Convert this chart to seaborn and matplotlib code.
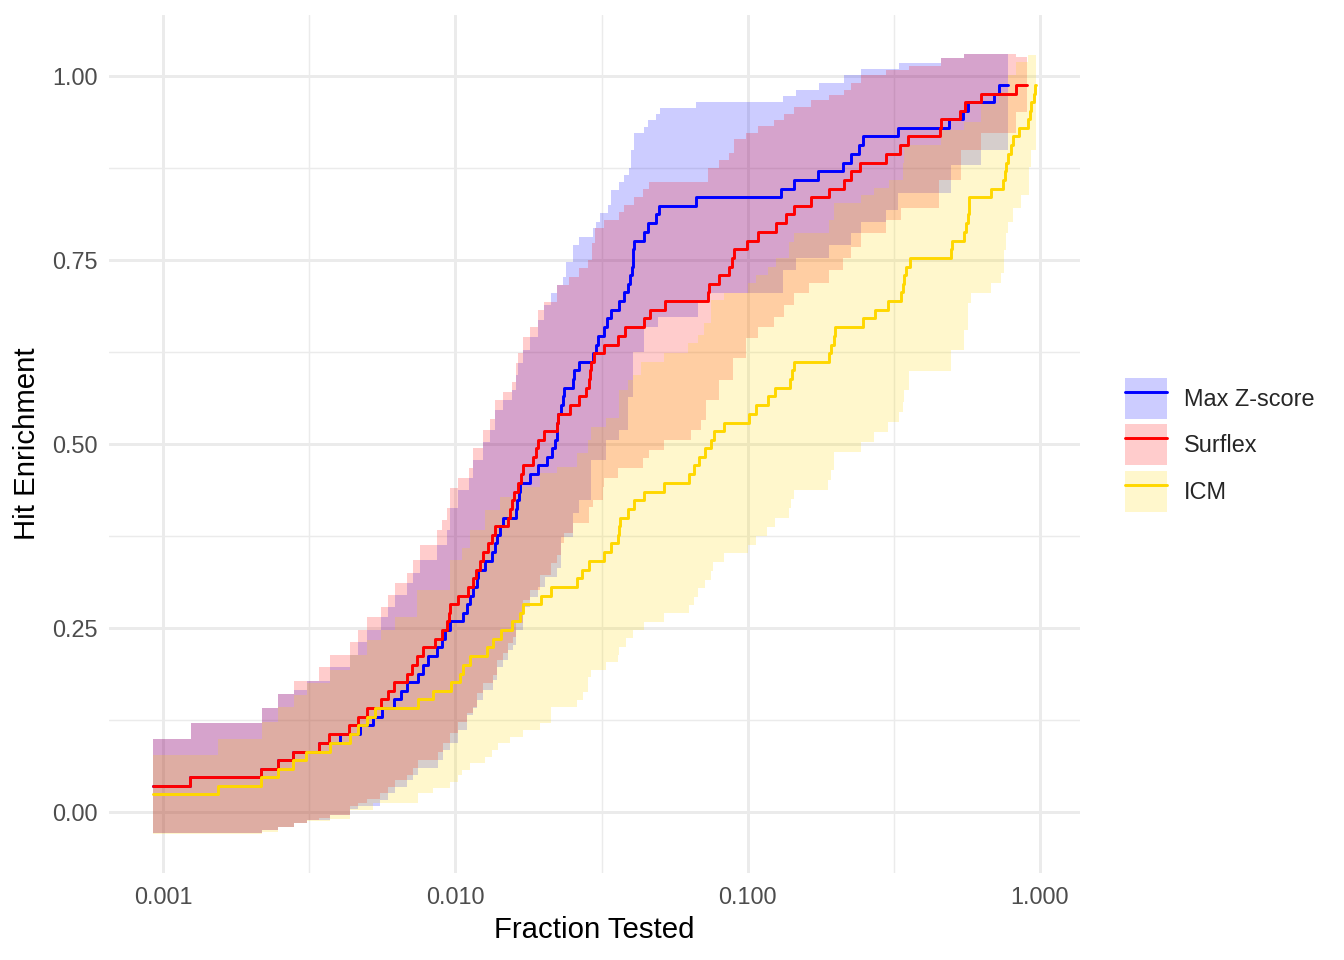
import numpy as np
import pandas as pd
import matplotlib
matplotlib.use("Agg")
import matplotlib.pyplot as plt
import seaborn as sns
from matplotlib.patches import Patch
from matplotlib.lines import Line2D
from matplotlib.ticker import FixedLocator, FixedFormatter

# ---- step lines (fraction tested -> hit enrichment) ----
maxz_x = [0.000924, 0.001237, 0.002166, 0.002477, 0.002786, 0.003422, 0.00404, 0.00473, 0.005241, 0.005628,
          0.006186, 0.006531, 0.006848, 0.00747, 0.007771, 0.008084, 0.008679, 0.00903, 0.009248, 0.00962,
          0.01065, 0.01099, 0.01125, 0.01152, 0.01189, 0.01199, 0.01267, 0.01339, 0.01361, 0.01393,
          0.01426, 0.0146, 0.01606, 0.01631, 0.01657, 0.0167, 0.01807, 0.01924, 0.02066, 0.02149,
          0.022, 0.02218, 0.02235, 0.02253, 0.02289, 0.02326, 0.02362, 0.02516, 0.02536, 0.02638,
          0.02946, 0.03017, 0.03064, 0.03213, 0.0329, 0.03395, 0.03617, 0.03762, 0.03883, 0.03944,
          0.04007, 0.04039, 0.04055, 0.04071, 0.04406, 0.04547, 0.04843, 0.04958, 0.06637, 0.1297,
          0.1437, 0.1736, 0.2115, 0.2253, 0.24, 0.2477, 0.3264, 0.4879, 0.5449, 0.567,
          0.6959, 0.7238, 0.777]
maxz_y = [0.035, 0.047, 0.059, 0.071, 0.082, 0.094, 0.106, 0.118, 0.129, 0.141,
          0.153, 0.165, 0.176, 0.188, 0.200, 0.212, 0.224, 0.235, 0.247, 0.259,
          0.271, 0.282, 0.294, 0.306, 0.318, 0.329, 0.341, 0.353, 0.365, 0.376,
          0.388, 0.400, 0.412, 0.424, 0.435, 0.447, 0.459, 0.471, 0.482, 0.494,
          0.506, 0.518, 0.529, 0.541, 0.553, 0.565, 0.576, 0.588, 0.600, 0.612,
          0.624, 0.635, 0.647, 0.659, 0.671, 0.682, 0.694, 0.706, 0.718, 0.729,
          0.741, 0.753, 0.765, 0.776, 0.788, 0.800, 0.812, 0.824, 0.835, 0.847,
          0.859, 0.871, 0.882, 0.894, 0.906, 0.918, 0.929, 0.941, 0.953, 0.965,
          0.976, 0.988, 0.988]

surflex_x = [0.000924, 0.001237, 0.002166, 0.002477, 0.002786, 0.003422, 0.003702, 0.004336, 0.004657, 0.004999,
             0.005584, 0.005901, 0.006186, 0.006848, 0.007124, 0.007411, 0.007771, 0.008543, 0.00903, 0.009395,
             0.009544, 0.00962, 0.01024, 0.01108, 0.01152, 0.0118, 0.01218, 0.01247, 0.01297, 0.01339,
             0.01371, 0.01519, 0.01543, 0.01568, 0.01593, 0.01644, 0.01683, 0.0171, 0.0185, 0.01894,
             0.01924, 0.02017, 0.02235, 0.02253, 0.02476, 0.02638, 0.02788, 0.02855, 0.02877, 0.029,
             0.0297, 0.03213, 0.03589, 0.03792, 0.04406, 0.0462, 0.05198, 0.07291, 0.07349, 0.07952,
             0.08603, 0.0881, 0.0895, 0.0992, 0.1082, 0.1247, 0.1349, 0.1437, 0.1643, 0.1894,
             0.2132, 0.2253, 0.2419, 0.2969, 0.3316, 0.3532, 0.4545, 0.4581, 0.5321, 0.5536,
             0.6281, 0.8277, 0.9028]
surflex_y = [0.035, 0.047, 0.059, 0.071, 0.082, 0.094, 0.106, 0.118, 0.129, 0.141,
             0.153, 0.165, 0.176, 0.188, 0.200, 0.212, 0.224, 0.235, 0.247, 0.259,
             0.271, 0.282, 0.294, 0.306, 0.318, 0.329, 0.341, 0.353, 0.365, 0.376,
             0.388, 0.400, 0.412, 0.424, 0.435, 0.447, 0.459, 0.471, 0.482, 0.494,
             0.506, 0.518, 0.529, 0.541, 0.553, 0.565, 0.576, 0.588, 0.600, 0.612,
             0.624, 0.635, 0.647, 0.659, 0.671, 0.682, 0.694, 0.706, 0.718, 0.729,
             0.741, 0.753, 0.765, 0.776, 0.788, 0.800, 0.812, 0.824, 0.835, 0.847,
             0.859, 0.871, 0.882, 0.894, 0.906, 0.918, 0.929, 0.941, 0.953, 0.965,
             0.976, 0.988, 0.988]

icm_x = [0.000924, 0.001543, 0.002166, 0.002477, 0.002786, 0.003088, 0.003732, 0.004372, 0.004657, 0.004999,
         0.00532, 0.00747, 0.008407, 0.009696, 0.0104, 0.01065, 0.01125, 0.01287, 0.0135, 0.01437,
         0.01568, 0.0167, 0.0171, 0.0197, 0.02116, 0.02617, 0.02701, 0.02855, 0.03213, 0.03395,
         0.03589, 0.03617, 0.03645, 0.03883, 0.04071, 0.04406, 0.05157, 0.06281, 0.06533, 0.06796,
         0.07121, 0.07466, 0.07645, 0.08273, 0.1008, 0.1065, 0.1171, 0.1237, 0.1393, 0.1415,
         0.1437, 0.1894, 0.1924, 0.197, 0.1985, 0.2477, 0.2723, 0.3016, 0.3342, 0.3396,
         0.3423, 0.3476, 0.3588, 0.4957, 0.4997, 0.5493, 0.558, 0.567, 0.5715, 0.6797,
         0.747, 0.7589, 0.7649, 0.777, 0.7957, 0.8083, 0.8475, 0.91, 0.9245, 0.9318,
         0.9541, 0.9616, 0.9692]
icm_y = [0.024, 0.035, 0.047, 0.059, 0.071, 0.082, 0.094, 0.106, 0.118, 0.129,
         0.141, 0.153, 0.165, 0.176, 0.188, 0.200, 0.212, 0.224, 0.235, 0.247,
         0.259, 0.271, 0.282, 0.294, 0.306, 0.318, 0.329, 0.341, 0.353, 0.365,
         0.376, 0.388, 0.400, 0.412, 0.424, 0.435, 0.447, 0.459, 0.471, 0.482,
         0.494, 0.506, 0.518, 0.529, 0.541, 0.553, 0.565, 0.576, 0.588, 0.600,
         0.612, 0.624, 0.635, 0.647, 0.659, 0.671, 0.682, 0.694, 0.706, 0.718,
         0.729, 0.741, 0.753, 0.765, 0.776, 0.788, 0.800, 0.812, 0.835, 0.847,
         0.859, 0.871, 0.882, 0.894, 0.906, 0.918, 0.929, 0.941, 0.953, 0.965,
         0.976, 0.988, 0.988]

# ---- confidence ribbons (upper / lower bounds, each a step series) ----
maxz_hi_x = [0.000924, 0.001247, 0.002184, 0.002477, 0.002808, 0.003113, 0.003732, 0.004372, 0.004657, 0.004999,
             0.005584, 0.005901, 0.006236, 0.006848, 0.00718, 0.00759, 0.008679, 0.009395, 0.00962, 0.01024,
             0.01117, 0.01152, 0.01247, 0.01318, 0.01371, 0.0146, 0.01568, 0.01606, 0.01644, 0.0171,
             0.01807, 0.01924, 0.02017, 0.02116, 0.02235, 0.02326, 0.02381, 0.02516, 0.02638, 0.02946,
             0.03017, 0.03113, 0.03316, 0.03395, 0.03617, 0.03762, 0.03913, 0.03976, 0.04071, 0.04406,
             0.04547, 0.04843, 0.04997, 0.06637, 0.1318, 0.146, 0.175, 0.2132, 0.2438, 0.329,
             0.4581, 0.5493]
maxz_hi_y = [0.099, 0.121, 0.141, 0.160, 0.166, 0.178, 0.197, 0.213, 0.231, 0.247,
             0.265, 0.279, 0.295, 0.311, 0.325, 0.342, 0.363, 0.383, 0.413, 0.438,
             0.454, 0.478, 0.503, 0.519, 0.546, 0.560, 0.573, 0.594, 0.610, 0.628,
             0.645, 0.668, 0.689, 0.705, 0.716, 0.727, 0.747, 0.770, 0.781, 0.793,
             0.802, 0.814, 0.825, 0.845, 0.856, 0.865, 0.875, 0.899, 0.923, 0.931,
             0.940, 0.948, 0.957, 0.965, 0.973, 0.981, 0.990, 1.001, 1.010, 1.018,
             1.024, 1.030]
maxz_lo_x = [0.000924, 0.002184, 0.002477, 0.002808, 0.003113, 0.003732, 0.004372, 0.004657, 0.00554, 0.005901,
             0.006236, 0.006848, 0.00718, 0.00747, 0.00875, 0.0091, 0.00962, 0.01024, 0.01099, 0.01152,
             0.01189, 0.01247, 0.0135, 0.01393, 0.0146, 0.01519, 0.0158, 0.01606, 0.0171, 0.01807,
             0.01924, 0.02033, 0.02235, 0.02289, 0.02516, 0.02638, 0.029, 0.03264, 0.03617, 0.03883,
             0.04039, 0.04406, 0.04921, 0.06743, 0.07291, 0.1318, 0.146, 0.1894, 0.2253, 0.2438,
             0.2969, 0.3264, 0.4957, 0.6281]
maxz_lo_y = [-0.029, -0.024, -0.020, -0.015, -0.011, -0.004, 0.004, 0.008, 0.016, 0.026,
             0.034, 0.043, 0.050, 0.060, 0.071, 0.084, 0.094, 0.111, 0.132, 0.141,
             0.152, 0.166, 0.179, 0.197, 0.207, 0.220, 0.227, 0.247, 0.279, 0.292,
             0.306, 0.319, 0.332, 0.374, 0.406, 0.424, 0.478, 0.505, 0.519, 0.564,
             0.625, 0.659, 0.673, 0.696, 0.705, 0.736, 0.753, 0.770, 0.787, 0.802,
             0.818, 0.841, 0.879, 0.899]

surflex_hi_x = [0.000924, 0.001247, 0.002184, 0.002477, 0.002808, 0.003422, 0.003732, 0.004372, 0.004657, 0.004999,
                0.005584, 0.005901, 0.006236, 0.006848, 0.00718, 0.00759, 0.008679, 0.00903, 0.009395, 0.00962,
                0.01024, 0.01117, 0.01152, 0.01247, 0.01318, 0.01371, 0.0146, 0.01568, 0.01606, 0.01644,
                0.0171, 0.01807, 0.01924, 0.02017, 0.02235, 0.02457, 0.02638, 0.02832, 0.02923, 0.02993,
                0.03213, 0.03617, 0.03762, 0.04071, 0.04371, 0.04583, 0.07291, 0.07952, 0.08603, 0.0895,
                0.0984, 0.1082, 0.1227, 0.1328, 0.1437, 0.1643, 0.1894, 0.2132, 0.2253, 0.2438,
                0.2969, 0.356, 0.4581, 0.5493, 0.8277]
surflex_hi_y = [0.099, 0.121, 0.141, 0.160, 0.178, 0.197, 0.213, 0.231, 0.247, 0.265,
                0.279, 0.295, 0.311, 0.325, 0.342, 0.363, 0.383, 0.397, 0.413, 0.440,
                0.454, 0.467, 0.495, 0.519, 0.534, 0.560, 0.571, 0.584, 0.610, 0.624,
                0.645, 0.659, 0.682, 0.693, 0.716, 0.727, 0.739, 0.750, 0.773, 0.793,
                0.804, 0.815, 0.825, 0.836, 0.846, 0.856, 0.875, 0.886, 0.895, 0.914,
                0.923, 0.932, 0.940, 0.948, 0.958, 0.967, 0.974, 0.981, 0.990, 1.001,
                1.008, 1.014, 1.024, 1.030, 1.026]
surflex_lo_x = [0.000924, 0.002184, 0.002477, 0.002808, 0.003113, 0.003422, 0.003732, 0.004372, 0.004657, 0.004999,
                0.00554, 0.005901, 0.006236, 0.006848, 0.00718, 0.00747, 0.00875, 0.0091, 0.00962, 0.01024,
                0.01099, 0.01152, 0.01189, 0.01247, 0.0135, 0.01393, 0.0146, 0.01519, 0.0158, 0.01606,
                0.0171, 0.01807, 0.01955, 0.02116, 0.02235, 0.02289, 0.02344, 0.02516, 0.02855, 0.02946,
                0.03188, 0.03213, 0.03589, 0.04371, 0.04583, 0.05157, 0.06381, 0.069, 0.07177, 0.07952,
                0.0888, 0.0984, 0.1082, 0.1227, 0.1328, 0.1437, 0.1618, 0.1894, 0.2115, 0.2253,
                0.2438, 0.2969, 0.3342, 0.4509, 0.5364, 0.6281, 0.8277]
surflex_lo_y = [-0.029, -0.024, -0.020, -0.015, -0.011, -0.008, -0.004, 0.008, 0.012, 0.018,
                0.026, 0.034, 0.043, 0.050, 0.060, 0.071, 0.082, 0.094, 0.107, 0.122,
                0.135, 0.143, 0.162, 0.175, 0.186, 0.207, 0.216, 0.230, 0.238, 0.257,
                0.288, 0.302, 0.322, 0.338, 0.349, 0.365, 0.379, 0.393, 0.414, 0.424,
                0.442, 0.454, 0.467, 0.481, 0.492, 0.505, 0.519, 0.533, 0.560, 0.587,
                0.617, 0.644, 0.659, 0.673, 0.689, 0.705, 0.719, 0.736, 0.753, 0.768,
                0.787, 0.804, 0.821, 0.859, 0.899, 0.923, 0.951]

icm_hi_x = [0.000924, 0.001543, 0.002184, 0.002477, 0.002808, 0.003113, 0.003732, 0.004372, 0.004999, 0.005584,
            0.006236, 0.007411, 0.00962, 0.01057, 0.01125, 0.01267, 0.01426, 0.01644, 0.01955, 0.02235,
            0.02617, 0.02832, 0.029, 0.03264, 0.03617, 0.03883, 0.04039, 0.04302, 0.05157, 0.06232,
            0.06743, 0.07065, 0.07466, 0.08273, 0.1, 0.1065, 0.1171, 0.1247, 0.1382, 0.1437,
            0.1894, 0.197, 0.2438, 0.2702, 0.304, 0.3396, 0.3423, 0.4581, 0.5493, 0.6281,
            0.7238, 0.777, 0.8277, 0.91]
icm_hi_y = [0.077, 0.099, 0.122, 0.143, 0.159, 0.175, 0.193, 0.213, 0.234, 0.247,
            0.265, 0.302, 0.342, 0.359, 0.383, 0.410, 0.428, 0.442, 0.461, 0.469,
            0.488, 0.505, 0.523, 0.535, 0.573, 0.587, 0.594, 0.611, 0.624, 0.637,
            0.648, 0.664, 0.696, 0.705, 0.719, 0.730, 0.740, 0.753, 0.774, 0.787,
            0.804, 0.827, 0.838, 0.848, 0.859, 0.882, 0.906, 0.927, 0.938, 0.963,
            0.978, 1.001, 1.019, 1.029]
icm_lo_x = [0.000924, 0.002184, 0.002477, 0.002808, 0.003113, 0.003732, 0.004372, 0.005241, 0.00747, 0.008407,
            0.00962, 0.01024, 0.01057, 0.01125, 0.01267, 0.01339, 0.01404, 0.01543, 0.01697, 0.01955,
            0.02116, 0.02617, 0.02723, 0.02832, 0.029, 0.03264, 0.03589, 0.03617, 0.03822, 0.04039,
            0.04406, 0.05157, 0.06281, 0.06533, 0.06743, 0.07121, 0.07466, 0.07585, 0.08273, 0.1,
            0.1065, 0.1162, 0.1237, 0.1382, 0.1404, 0.1437, 0.1879, 0.1924, 0.197, 0.2438,
            0.2702, 0.3016, 0.329, 0.3396, 0.3423, 0.356, 0.4957, 0.5493, 0.567, 0.5806,
            0.6797, 0.7353, 0.7529, 0.7649, 0.777, 0.8083, 0.861, 0.9172, 0.9318]
icm_lo_y = [-0.030, -0.027, -0.020, -0.015, -0.012, -0.010, 0.003, 0.012, 0.026, 0.033,
            0.041, 0.050, 0.057, 0.067, 0.075, 0.084, 0.094, 0.102, 0.111, 0.121,
            0.143, 0.152, 0.163, 0.183, 0.193, 0.204, 0.213, 0.224, 0.236, 0.247,
            0.258, 0.270, 0.281, 0.292, 0.304, 0.315, 0.327, 0.340, 0.352, 0.363,
            0.375, 0.387, 0.399, 0.413, 0.425, 0.438, 0.451, 0.465, 0.489, 0.503,
            0.516, 0.530, 0.543, 0.557, 0.573, 0.599, 0.628, 0.655, 0.692, 0.705,
            0.719, 0.732, 0.764, 0.787, 0.802, 0.821, 0.838, 0.876, 0.899]

methods = ["Max Z-score", "Surflex", "ICM"]
colors = {"Max Z-score": "#0000FF", "Surflex": "#FF0000", "ICM": "#FFD700"}

x_ticks = [0.001, 0.01, 0.1, 1.0]
x_tick_labels = ["0.001", "0.010", "0.100", "1.000"]
y_ticks = [0.0, 0.25, 0.5, 0.75, 1.0]
y_tick_labels = ["0.00", "0.25", "0.50", "0.75", "1.00"]

lines = {
    "Max Z-score": (maxz_x, maxz_y),
    "Surflex": (surflex_x, surflex_y),
    "ICM": (icm_x, icm_y),
}
ribbons = {
    "Max Z-score": (maxz_hi_x, maxz_hi_y, maxz_lo_x, maxz_lo_y),
    "Surflex": (surflex_hi_x, surflex_hi_y, surflex_lo_x, surflex_lo_y),
    "ICM": (icm_hi_x, icm_hi_y, icm_lo_x, icm_lo_y),
}


def step_at(xs, ys, grid):
    # value of a post-step series at each grid position
    idx = np.searchsorted(np.asarray(xs), grid, side="right") - 1
    return np.asarray(ys)[np.clip(idx, 0, len(ys) - 1)]


df = pd.concat(
    [pd.DataFrame({"frac": lines[m][0], "enrich": lines[m][1], "method": m}) for m in methods],
    ignore_index=True,
)

sns.set_theme(style="white")
plt.rcParams["font.family"] = ["Liberation Sans", "DejaVu Sans"]

fig = plt.figure(figsize=(7, 5), dpi=192)
ax = fig.add_axes([0.0811, 0.0906, 0.7225, 0.8938])
ax.set_xscale("log")

# ribbons first, lines on top (ggplot layer order)
for m in methods:
    hx, hy, lx, ly = ribbons[m]
    end = lines[m][0][-1]
    grid = np.union1d(np.union1d(hx, lx), [end])
    hi = step_at(hx, hy, grid)
    lo = step_at(lx, ly, grid)
    ax.fill_between(grid, lo, hi, step="post", color=colors[m], alpha=0.2, linewidth=0)

sns.lineplot(
    data=df, x="frac", y="enrich", hue="method", hue_order=methods, palette=colors,
    estimator=None, sort=False, drawstyle="steps-post", linewidth=1.1, legend=False, ax=ax,
)

# ggplot-like 5% expansion
all_x = np.log10(df["frac"].to_numpy())
xmin, xmax = all_x.min(), all_x.max()
pad_x = 0.05 * (xmax - xmin)
ax.set_xlim(10 ** (xmin - pad_x), 10 ** (xmax + pad_x))
all_y = np.concatenate([df["enrich"].to_numpy()] + [np.r_[r[1], r[3]] for r in ribbons.values()])
ymin, ymax = all_y.min(), all_y.max()
pad_y = 0.05 * (ymax - ymin)
ax.set_ylim(ymin - pad_y, ymax + pad_y)

# grid: major + minor like theme_minimal
ax.xaxis.set_major_locator(FixedLocator(x_ticks))
ax.xaxis.set_major_formatter(FixedFormatter(x_tick_labels))
ax.xaxis.set_minor_locator(FixedLocator([np.sqrt(a * b) for a, b in zip(x_ticks[:-1], x_ticks[1:])]))
ax.yaxis.set_major_locator(FixedLocator(y_ticks))
ax.yaxis.set_major_formatter(FixedFormatter(y_tick_labels))
ax.yaxis.set_minor_locator(FixedLocator([(a + b) / 2 for a, b in zip(y_ticks[:-1], y_ticks[1:])]))
ax.grid(which="major", color="#EBEBEB", linewidth=1.1)
ax.grid(which="minor", color="#EBEBEB", linewidth=0.55)
ax.set_axisbelow(True)
for s in ax.spines.values():
    s.set_visible(False)
ax.tick_params(which="both", length=0)
ax.tick_params(axis="x", which="major", pad=5.0, labelsize=8.8, labelcolor="#4D4D4D")
ax.tick_params(axis="y", which="major", pad=4.4, labelsize=8.8, labelcolor="#4D4D4D")

ax.set_xlabel("Fraction Tested", fontsize=11, color="black", labelpad=2.5)
ax.set_ylabel("Hit Enrichment", fontsize=11, color="black", labelpad=4)

handles = [
    (Patch(facecolor=colors[m], alpha=0.2, edgecolor="none"), Line2D([], [], color=colors[m], linewidth=1.1))
    for m in methods
]
ax.legend(
    handles, methods, loc="center left", bbox_to_anchor=(0.837, 0.5365), bbox_transform=fig.transFigure,
    frameon=False, fontsize=8.8, handlelength=1.79, handleheight=2.31, labelspacing=0.23,
    handletextpad=0.72, borderpad=0, borderaxespad=0,
)

fig.savefig("out.png", dpi=192)
